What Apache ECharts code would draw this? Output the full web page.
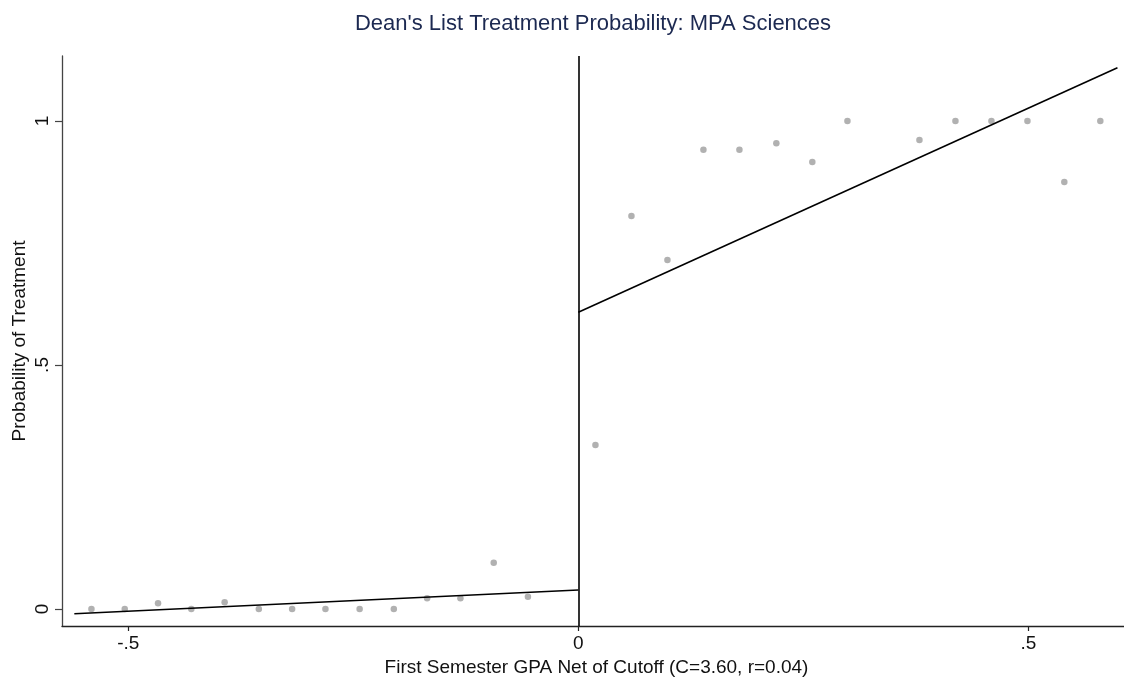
<!DOCTYPE html>
<html>
<head>
<meta charset="utf-8">
<script src="https://cdn.jsdelivr.net/npm/echarts@6/dist/echarts.min.js"></script>
<style>
  html, body { margin: 0; padding: 0; background: #fff; }
  #chart { width: 1124px; height: 682px; }
</style>
</head>
<body>
<div id="chart"></div>
<script>
// Binned means of treatment below the cutoff
const leftX = [-0.541, -0.504, -0.467, -0.430, -0.393, -0.355, -0.318, -0.281, -0.243, -0.205, -0.168, -0.131, -0.094, -0.056];
const leftY = [0, 0, 0.012, 0, 0.014, 0, 0, 0, 0, 0, 0.022, 0.022, 0.095, 0.025];
// Binned means of treatment above the cutoff
const rightX = [0.019, 0.059, 0.099, 0.139, 0.179, 0.220, 0.260, 0.299, 0.379, 0.419, 0.459, 0.499, 0.540, 0.580];
const rightY = [0.336, 0.805, 0.715, 0.941, 0.941, 0.954, 0.916, 1.0, 0.961, 1.0, 1.0, 1.0, 0.875, 1.0];
// Linear fits on each side: [x, y] endpoints
const leftFit = [[-0.560, -0.0096], [0, 0.0389]];
const rightFit = [[0, 0.608], [0.599, 1.109]];
// Axis ticks
const xTicks = [-0.5, 0, 0.5];
const yTicks = [0, 0.5, 1];
const cutoff = 0;

const FONT = 'Liberation Sans, Arial, sans-serif';
const fmt = v => {
  if (v === 0) return '0';
  if (v === 1) return '1';
  return String(v).replace('0.', '.');
};
const zip = (xs, ys) => xs.map((x, i) => [x, ys[i]]);

const chart = echarts.init(document.getElementById('chart'), null, { renderer: 'canvas' });
chart.setOption({
  animation: false,
  backgroundColor: '#ffffff',
  textStyle: { fontFamily: FONT },
  title: {
    text: "Dean's List Treatment Probability: MPA Sciences",
    left: 588,
    textAlign: 'center',
    top: 8,
    textStyle: { fontFamily: FONT, fontSize: 22, fontWeight: 'normal', color: '#1c2951' }
  },
  grid: { left: 62, top: 56, width: 1062, height: 570, containLabel: false, outerBoundsMode: 'none' },
  xAxis: {
    type: 'value',
    min: -0.5737,
    max: 0.6063,
    name: 'First Semester GPA Net of Cutoff (C=3.60, r=0.04)',
    nameLocation: 'middle',
    nameGap: 30,
    nameTextStyle: { fontFamily: FONT, fontSize: 19, color: '#111', padding: [0, 0, 0, 7] },
    axisLine: { show: true, onZero: false, lineStyle: { color: '#222', width: 1.3 } },
    axisTick: { show: true, length: 5, customValues: xTicks, lineStyle: { color: '#222', width: 1.2 } },
    axisLabel: { customValues: xTicks, formatter: fmt, margin: 8, fontFamily: FONT, fontSize: 19, color: '#111' },
    splitLine: { show: false }
  },
  yAxis: {
    type: 'value',
    min: -0.0348,
    max: 1.133,
    name: 'Probability of Treatment',
    nameLocation: 'middle',
    nameGap: 33,
    nameRotate: 90,
    nameMoveOverlap: false,
    nameTextStyle: { fontFamily: FONT, fontSize: 19, color: '#111' },
    axisLine: { show: true, onZero: false, lineStyle: { color: '#444', width: 1.3 } },
    axisTick: { show: true, length: 7, customValues: yTicks, lineStyle: { color: '#444', width: 1.2 } },
    axisLabel: { customValues: yTicks, formatter: fmt, rotate: 90, margin: 10, fontFamily: FONT, fontSize: 19, color: '#111' },
    splitLine: { show: false }
  },
  series: [
    {
      type: 'scatter',
      data: zip(leftX, leftY),
      symbolSize: 6.5,
      itemStyle: { color: '#9e9e9e' },
      z: 3
    },
    {
      type: 'scatter',
      data: zip(rightX, rightY),
      symbolSize: 6.5,
      itemStyle: { color: '#9e9e9e' },
      z: 3
    },
    {
      type: 'line',
      data: leftFit,
      symbol: 'none',
      lineStyle: { color: '#000', width: 1.6 },
      z: 4
    },
    {
      type: 'line',
      data: rightFit,
      symbol: 'none',
      lineStyle: { color: '#000', width: 1.6 },
      z: 4,
      markLine: {
        silent: true,
        symbol: ['none', 'none'],
        label: { show: false },
        lineStyle: { color: '#000', width: 1.6, type: 'solid' },
        data: [{ xAxis: cutoff }]
      }
    }
  ]
});
</script>
</body>
</html>
